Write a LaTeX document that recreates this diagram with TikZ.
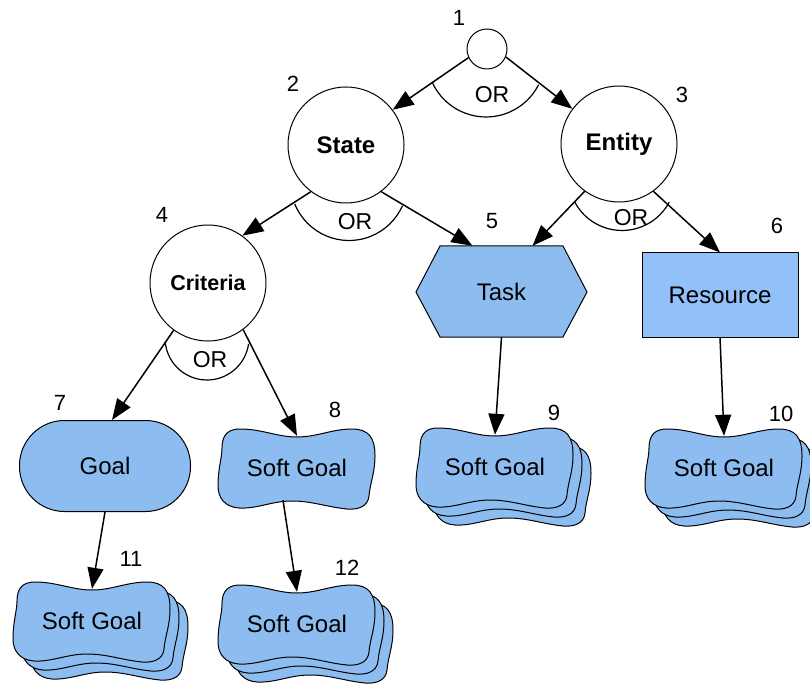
\documentclass[tikz,border=0pt]{standalone}
\usepackage{fontspec}
\setmainfont{Liberation Sans}
\usetikzlibrary{arrows.meta}
\definecolor{sgblue}{RGB}{141,189,240}
\definecolor{resblue}{RGB}{146,193,250}
\tikzset{
  circ/.style={circle, draw, line width=1pt, fill=white, inner sep=0pt},
  edge/.style={line width=1.5pt, -{Triangle[length=21pt,width=16pt]}},
  num/.style={font=\fontsize{22}{24}\selectfont},
  orlbl/.style={font=\fontsize{23}{25}\selectfont},
  lbl/.style={font=\fontsize{24}{28}\selectfont},
  orarc/.style={line width=1.2pt},
  anchorbox/.style={rectangle, minimum width=156pt, minimum height=64pt, inner sep=0pt},
  sgshape/.style={draw, fill=sgblue, line width=1pt},
}
\newcommand\sgone[2]{\draw[sgshape,xshift=#1pt,yshift=#2pt]
  (0,31) .. controls (20,31) and (35,39) .. (55,39)
  .. controls (72,39) and (78,30) .. (78,12)
  .. controls (78,-5) and (73,-15) .. (72,-28)
  .. controls (71,-38) and (62,-42) .. (50,-41)
  .. controls (30,-39) and (15,-33) .. (-5,-33)
  .. controls (-25,-33) and (-40,-41) .. (-58,-40)
  .. controls (-72,-39) and (-79,-30) .. (-79,-18)
  .. controls (-79,0) and (-75,10) .. (-75,20)
  .. controls (-75,34) and (-68,39) .. (-57,39)
  .. controls (-35,39) and (-20,31) .. (0,31) -- cycle;}
\newcommand\sgstack[2]{%
  \pgfmathsetmacro\sgxa{#1+18}\pgfmathsetmacro\sgya{#2-18}%
  \pgfmathsetmacro\sgxb{#1+9}\pgfmathsetmacro\sgyb{#2-9}%
  \sgone{\sgxa}{\sgya}\sgone{\sgxb}{\sgyb}\sgone{#1}{#2}}
\begin{document}
\begin{tikzpicture}[x=1pt,y=1pt]
\fill[white] (0,0) rectangle (810,-684);
\useasboundingbox (0,0) rectangle (810,-684);

% circles
\node[circ, minimum size=40pt] (n1) at (487,-49) {};
\node[circ, minimum size=116pt, font=\fontsize{24}{28}\selectfont\bfseries] (state) at (346,-145) {State};
\node[circ, minimum size=116pt, font=\fontsize{24}{28}\selectfont\bfseries] (entity) at (619,-144) {Entity};
\node[circ, minimum size=116pt, font=\fontsize{21.5}{26}\selectfont\bfseries] (crit) at (208,-283) {Criteria};

% task hexagon
\draw[fill=sgblue, line width=1pt] (416,-292) -- (440,-246) -- (563,-246) -- (587,-292) -- (563,-337) -- (440,-337) -- cycle;
\node[rectangle, minimum width=171pt, minimum height=91pt, inner sep=0pt, lbl] (task) at (501.5,-291.5) {Task};

% resource
\node[draw, fill=resblue, line width=1pt, minimum width=156pt, minimum height=84pt, inner sep=0pt, lbl] (res) at (720,-295) {Resource};

% goal
\node[draw, fill=sgblue, line width=1pt, rounded corners=45pt, minimum width=171pt, minimum height=91pt, inner sep=0pt, lbl] (goal) at (105,-466) {Goal};

% soft goals
\sgone{297}{-468}
\node[anchorbox, lbl] (sg8) at (297,-468) {Soft Goal};
\sgstack{495}{-467}
\node[anchorbox, lbl] (sg9) at (495,-467) {Soft Goal};
\sgstack{724}{-468}
\node[anchorbox, lbl] (sg10) at (724,-468) {Soft Goal};
\sgstack{92}{-621}
\node[anchorbox, lbl] (sg11) at (92,-621) {Soft Goal};
\sgstack{297}{-624}
\node[anchorbox, lbl] (sg12) at (297,-624) {Soft Goal};

% OR arcs
\draw[orarc] ([shift={(-1,-9)}]n1.center) ++(204:59) arc[start angle=204, end angle=333, radius=59];
\draw[orarc] ([shift={(3,-37)}]state.center) ++(202:58.5) arc[start angle=202, end angle=336, radius=58.5];
\draw[orarc] ([shift={(3,-33)}]entity.center) ++(208:53.5) arc[start angle=208, end angle=332, radius=53.5];
\draw[orarc] ([shift={(-1,-55)}]crit.center) ++(185:42) arc[start angle=185, end angle=352, radius=42];
\node[orlbl] (or1) at (492,-95) {OR};
\node[orlbl] (or2) at (355,-222) {OR};
\node[orlbl] (or3) at (631,-218) {OR};
\node[orlbl] (or4) at (210,-360) {OR};

% numbers
\node[num] (l1) at (459,-18) {1};
\node[num] (l2) at (293,-84) {2};
\node[num] (l3) at (682,-95) {3};
\node[num] (l4) at (162,-215) {4};
\node[num] (l5) at (492,-221) {5};
\node[num] (l6) at (777,-226) {6};
\node[num] (l7) at (60,-403) {7};
\node[num] (l8) at (335,-410) {8};
\node[num] (l9) at (554,-413) {9};
\node[num] (l10) at (781,-414) {10};
\node[num] (l11) at (131,-559) {11};
\node[num] (l12) at (347,-568) {12};

% edges
\draw[edge] (n1.205) -- (state.37);
\draw[edge] (n1.337) -- (entity.143);
\draw[edge] (state.233) -- (crit.54);
\draw[edge] (state.307) -- ([xshift=-29pt]task.north);
\draw[edge] (entity.234) -- ([xshift=31pt]task.north);
\draw[edge] (entity.306) -- (res.north);
\draw[edge] (crit.234) -- ([xshift=7pt]goal.north);
\draw[edge] (crit.307) -- (sg8.north);
\draw[edge] (task.south) -- (sg9.north);
\draw[edge] (res.south) -- (sg10.north);
\draw[edge] (goal.south) -- (sg11.north);
\draw[edge] ([xshift=-14pt]sg8.south) -- (sg12.north);
\end{tikzpicture}
\end{document}
